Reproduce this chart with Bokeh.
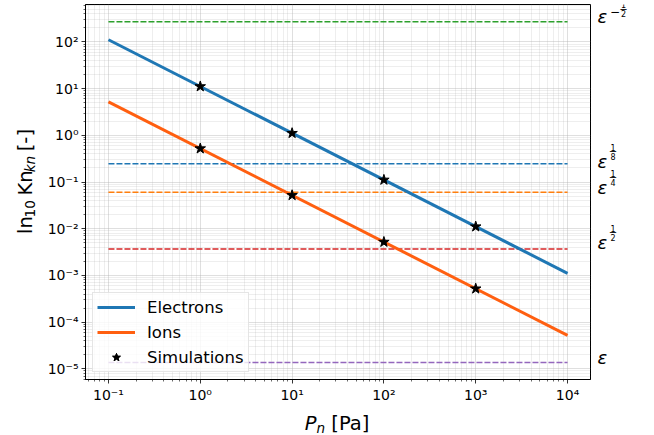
import math
from bokeh.plotting import figure
from bokeh.layouts import row, column
from bokeh.models import Range1d, FixedTicker, CustomJSTickFormatter, Legend, LegendItem
from bokeh.core.properties import value
from bokeh.embed import file_html
from bokeh.resources import INLINE

# ---------------- data ----------------
pressure_line = [0.1, 1e4]                      # Pa
electrons_kn = [111.0, 0.00111]
ions_kn = [5.2, 0.000052]
sim_pressure = [1, 10, 100, 1000]
sim_electrons = [11.1, 1.11, 0.111, 0.0111]
sim_ions = [0.52, 0.052, 0.0052, 0.00052]
eps_levels = [270.0, 0.246, 0.0607, 0.0037, 1.37e-5]
eps_colors = ["#2ca02c", "#1f77b4", "#ff7f0e", "#d62728", "#9467bd"]
eps_exponents = [("\u2212", "1", "2"), ("", "1", "8"), ("", "1", "4"), ("", "1", "2"), None]
x_tick_values = [1e-1, 1e0, 1e1, 1e2, 1e3, 1e4]
y_tick_values = [1e-5, 1e-4, 1e-3, 1e-2, 1e-1, 1e0, 1e1, 1e2]
legend_labels = ["Electrons", "Ions", "Simulations"]

# ---------------- layout constants ----------------
FONT = "DejaVu Sans"
DESC = 0.236          # DejaVu descent (em) - text box bottom sits below the baseline by this
X0, X1 = 10 ** -1.25, 10 ** 4.25
LY0, LY1 = -5.228, 2.80
Y0, Y1 = 10 ** LY0, 10 ** LY1
W_YLAB, W_MAIN, W_RIGHT = 44, 550, 60
H_MAIN, H_XLAB = 405, 30
B_TOP, B_BOT = 4, 25
PX_PER_DEC = (H_MAIN - B_TOP - B_BOT) / (LY1 - LY0)

yrange = Range1d(Y0, Y1)


def blank(width, height, xr, yr, y_type="linear"):
    f = figure(width=width, height=height, x_range=xr, y_range=yr, y_axis_type=y_type,
               x_axis_location=None, y_axis_location=None,
               output_backend="svg", toolbar_location=None, min_border=0)
    f.grid.visible = False
    f.outline_line_color = None
    f.background_fill_color = "white"
    f.border_fill_color = "white"
    return f


def txt(f, x, y, s, size, style="normal", align="left", baseline="alphabetic", angle=0.0):
    f.text(x=[x], y=[y], text=[s], text_font=value(FONT), text_font_size=f"{size}px",
           text_font_style=style, text_align=align, text_baseline=baseline,
           text_color="black", angle=angle)


# ---------------- main plot ----------------
p = figure(width=W_MAIN, height=H_MAIN, x_axis_type="log", y_axis_type="log",
           x_range=Range1d(X0, X1), y_range=yrange,
           output_backend="svg", toolbar_location=None,
           min_border_left=40, min_border_right=4, min_border_top=B_TOP, min_border_bottom=B_BOT)
p.background_fill_color = "white"
p.border_fill_color = "white"
p.outline_line_color = "black"
p.outline_line_width = 1
p.outline_line_alpha = 1


def minors(lo, hi, a, b):
    return [m * 10 ** e for e in range(lo, hi) for m in range(2, 10) if a <= m * 10 ** e <= b]


xt = FixedTicker(ticks=x_tick_values, minor_ticks=minors(-2, 5, X0, X1))
yt = FixedTicker(ticks=y_tick_values, minor_ticks=minors(-6, 3, Y0, Y1))
fmt = CustomJSTickFormatter(code="""
const sup = {"-": "\u207b", "0": "\u2070", "1": "\u00b9", "2": "\u00b2", "3": "\u00b3",
             "4": "\u2074", "5": "\u2075", "6": "\u2076", "7": "\u2077", "8": "\u2078", "9": "\u2079"};
const e = Math.round(Math.log10(tick));
return "10" + String(e).split("").map(c => sup[c]).join("");
""")

p.xaxis[0].ticker = xt
p.xgrid[0].ticker = xt
p.yaxis[0].ticker = yt
p.ygrid[0].ticker = yt
for ax in (p.xaxis[0], p.yaxis[0]):
    ax.formatter = fmt
    ax.major_label_text_font = FONT
    ax.major_label_text_font_size = "14px"
    ax.major_label_text_color = "black"
    ax.major_tick_out = 4
    ax.major_tick_in = 0
    ax.minor_tick_out = 2
    ax.minor_tick_in = 0
    ax.major_label_standoff = 3
    ax.axis_line_color = "black"
    ax.major_tick_line_color = "black"
    ax.minor_tick_line_color = "black"
    ax.major_tick_line_width = 0.8
    ax.minor_tick_line_width = 0.6

for g in (p.xgrid[0], p.ygrid[0]):
    g.grid_line_color = "#b0b0b0"
    g.grid_line_alpha = 0.5
    g.grid_line_width = 0.8
    g.minor_grid_line_color = "#b0b0b0"
    g.minor_grid_line_alpha = 0.28
    g.minor_grid_line_width = 0.8

for lvl, col in zip(eps_levels, eps_colors):
    p.line(pressure_line, [lvl, lvl], line_color=col, line_width=1.5, line_dash="6 2")

r_e = p.line(pressure_line, electrons_kn, line_color="#1f77b4", line_width=3)
r_i = p.line(pressure_line, ions_kn, line_color="#ff5f10", line_width=3)
r_s1 = p.scatter(sim_pressure, sim_electrons, marker="star", size=11, color="black")
r_s2 = p.scatter(sim_pressure, sim_ions, marker="star", size=11, color="black")

legend = Legend(items=[LegendItem(label=legend_labels[0], renderers=[r_e]),
                       LegendItem(label=legend_labels[1], renderers=[r_i]),
                       LegendItem(label=legend_labels[2], renderers=[r_s1, r_s2])],
                location="bottom_left", margin=7, padding=4, spacing=5,
                glyph_width=38, glyph_height=20, label_height=20, label_standoff=12,
                label_text_font=FONT, label_text_font_size="16.5px", label_text_color="black",
                border_line_color="#cccccc", border_line_width=1,
                background_fill_color="white", background_fill_alpha=0.8)
p.add_layout(legend)

# ---------------- right strip: epsilon labels ----------------
pr = blank(W_RIGHT, H_MAIN, Range1d(0, W_RIGHT), yrange, y_type="log")
pr.min_border_top = B_TOP
pr.min_border_bottom = B_BOT


def at(lvl, up_px):
    return lvl * 10 ** (up_px / PX_PER_DEC)


# baseline of epsilon relative to its line (px, positive = up)
eps_shift = [1.3, -2.3, 0.0, 2.0, 1.0]
E_SIZE, F_SIZE = 18, 8
for lvl, expo, sh in zip(eps_levels, eps_exponents, eps_shift):
    txt(pr, 3, at(lvl, sh + DESC * E_SIZE), "\u03b5", E_SIZE, style="italic")
    if expo is None:
        continue
    sign, num, den = expo
    if sign:
        txt(pr, 15.5, at(lvl, sh + 8.5), sign, 12, baseline="middle")
        fx = 29
        nb, bb, db = 14, 11, 5
    else:
        fx = 18.5
        nb, bb, db = 16.5, 14.5, 7.5
    txt(pr, fx, at(lvl, sh + nb + DESC * F_SIZE), num, F_SIZE, align="center")
    txt(pr, fx, at(lvl, sh + bb), "\u2500", 10, align="center", baseline="middle")
    txt(pr, fx, at(lvl, sh + db + DESC * F_SIZE), den, F_SIZE, align="center")

# ---------------- left strip: y title ln_10 Kn_kn [-] ----------------
pl = blank(W_YLAB, H_MAIN, Range1d(0, W_YLAB), Range1d(0, H_MAIN))
ang = math.pi / 2
BIG, SMALL = 19.5, 13.6
yb, ys = 29.5 - DESC * BIG, 33.0 - DESC * SMALL        # baseline x (page pixels)
pieces = [("ln", yb, BIG, "normal", 247.75),
          ("10", ys, SMALL, "normal", 229.97),
          ("Kn", yb, BIG, "normal", 206.4),
          ("kn", ys, SMALL, "italic", 181.3),
          ("[-]", yb, BIG, "normal", 158.5)]
for s, bx, size, style, page_y in pieces:
    txt(pl, bx, H_MAIN - page_y, s, size, style=style, angle=ang)

# ---------------- bottom strip: x title P_n [Pa] ----------------
TOTAL_W = W_YLAB + W_MAIN + W_RIGHT
PAGE_H = H_MAIN + H_XLAB
pb = blank(TOTAL_W, H_XLAB, Range1d(0, TOTAL_W), Range1d(0, H_XLAB))
txt(pb, 304.2, PAGE_H - 428 + DESC * BIG, "P", BIG, style="italic")
txt(pb, 316.0, PAGE_H - 431 + DESC * SMALL, "n", SMALL, style="italic")
txt(pb, 330.8, PAGE_H - 428 + DESC * BIG, "[Pa]", BIG)

layout = column(row(pl, p, pr, spacing=0), pb, spacing=0)
open("out.html", "w").write(file_html(layout, INLINE))
